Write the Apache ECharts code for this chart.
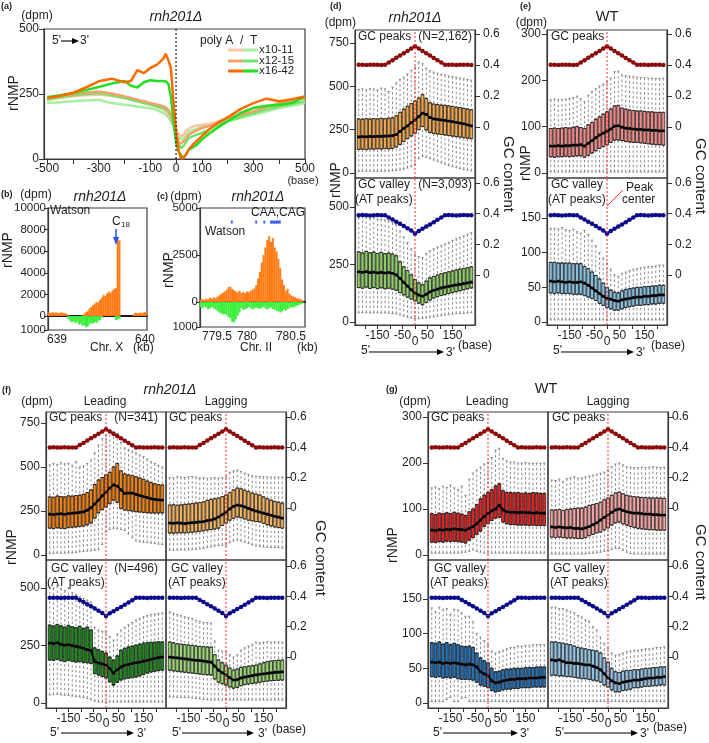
<!DOCTYPE html>
<html><head><meta charset="utf-8">
<script src="https://cdn.jsdelivr.net/npm/echarts@6/dist/echarts.min.js"></script>
<style>html,body{margin:0;padding:0;background:#fff}#c{width:709px;height:743px}</style>
</head><body><div id="c"></div>
<script>
// ---------------- DATA ----------------
// (a) rNMP around poly A/T tracts
const aPos = [-500,-450,-400,-350,-300,-250,-200,-175,-150,-125,-100,-75,-50,-40,-30,-20,-10,0,10,20,30,40,50,75,100,125,150,200,250,300,350,400,450,500];
const aOrange10 = [228,235,241,245,248,242,235,230,224,216,209,200,190,182,172,155,135,113,95,87,95,110,119,128,132,135,140,158,168,177,190,203,212,222];
const aGreen10  = [215,218,222,225,228,215,209,206,202,198,196,188,177,170,160,145,128,113,85,74,80,95,106,115,126,132,136,145,158,170,183,196,205,215];
const aOrange12 = [235,243,250,255,260,252,241,235,228,222,215,210,203,198,190,170,140,100,62,60,68,80,94,108,119,126,132,158,170,183,200,215,225,235];
const aGreen12  = [228,238,245,250,254,245,235,228,222,215,209,203,196,190,182,164,130,87,55,42,50,68,81,92,100,112,126,145,162,177,190,203,212,222];
const aOrange16 = [235,242,254,275,299,309,295,300,342,330,350,362,385,405,380,350,220,110,30,2,4,20,38,65,88,110,132,160,192,215,232,222,230,240];
const aGreen16  = [238,245,254,265,277,290,300,282,275,295,303,300,300,298,290,240,150,62,30,12,8,20,36,50,75,95,113,145,177,196,205,209,215,241];
const aLegend = ['x10-11','x12-15','x16-42'];
const aCenterLine = [[0, 0], [0, 500]];

// (b) Chr. X locus (kb)
const bPos = [638.91,638.93,638.95,638.97,638.99,639.01,639.03,639.05,639.07,639.09,639.11,639.13,639.15,639.17,639.19,639.21,639.23,639.25,639.27,639.29,639.31,639.33,639.35,639.37,639.39,639.41,639.43,639.45,639.47,639.49,639.51,639.53,639.55,639.57,639.59,639.61,639.63,639.65,639.67,639.69,639.71,639.73,639.75,639.77,639.79,639.81,639.83,639.85,639.87,639.89,639.91,639.93,639.95,639.97,639.99,640.01];
const bWatson = [320,280,350,300,330,260,300,340,280,250,200,60,0,0,0,0,0,0,20,60,200,350,450,700,850,1000,1150,1300,1250,1500,1700,1950,1850,2100,2250,2150,2350,2500,2600,7100,7000,0,0,0,0,0,0,0,150,300,280,250,320,260,350,380];
const bCrick = [0,0,0,0,0,0,0,0,0,0,0,-200,-350,-450,-380,-500,-420,-600,-550,-700,-650,-800,-750,-600,-500,-550,-450,-500,-350,-300,-100,0,0,0,0,0,0,0,-300,-250,-200,0,0,0,0,0,0,0,0,0,0,0,0,0,0,0];

// (c) Chr. II locus (kb)
const cPos = [779.28,779.305,779.33,779.355,779.38,779.405,779.43,779.455,779.48,779.505,779.53,779.555,779.58,779.605,779.63,779.655,779.68,779.705,779.73,779.755,779.78,779.805,779.83,779.855,779.88,779.905,779.93,779.955,779.98,780.005,780.03,780.055,780.08,780.105,780.13,780.155,780.18,780.205,780.23,780.255,780.28,780.305,780.33,780.355,780.38,780.405,780.43,780.455,780.48,780.505,780.53,780.555,780.58,780.605,780.63,780.655];
const cWatson = [120,150,100,180,150,220,180,250,200,280,350,420,500,560,650,780,820,700,620,560,520,600,480,530,470,560,520,600,650,720,900,1250,1600,2100,2500,2900,3300,3500,3200,3400,2900,2700,2300,1800,1200,900,600,700,450,350,300,250,200,180,150,100];
const cCrick = [-200,-250,-180,-220,-300,-250,-200,-260,-300,-350,-420,-450,-500,-480,-520,-600,-650,-780,-820,-700,-550,-420,-250,-320,-280,-250,-200,-240,-300,-260,-220,-250,-280,-230,-200,-260,-300,-250,-220,-280,-300,-350,-380,-420,-380,-300,-350,-280,-250,-200,-230,-180,-150,-120,-100,-60];
const cMotifX = [779.7,780.03,780.14,780.23,780.25,780.27,780.29,780.31,780.33,780.35];
const cMotifY = [4250,4250,4250,4250,4250,4250,4250,4250,4250,4250];

// (d)-(g) box plots around GC peaks / valleys (base)
const boxPos = [-225,-210,-195,-180,-165,-150,-135,-120,-105,-90,-75,-60,-45,-30,-15,0,15,30,45,60,75,90,105,120,135,150,165,180,195,210,225];
const gcPeak   = [0.40,0.401,0.399,0.40,0.401,0.40,0.399,0.40,0.416,0.43,0.446,0.46,0.475,0.49,0.505,0.52,0.505,0.49,0.475,0.46,0.445,0.43,0.415,0.40,0.401,0.40,0.399,0.40,0.401,0.40,0.399];
const gcValley = [0.39,0.391,0.39,0.389,0.39,0.391,0.39,0.39,0.376,0.362,0.348,0.335,0.32,0.305,0.29,0.27,0.288,0.302,0.316,0.33,0.345,0.36,0.375,0.39,0.391,0.39,0.389,0.39,0.391,0.39,0.39];
const peakCenter = 0;

const dUMed = [208,210,209,211,210,212,211,213,214,215,222,240,258,272,290,305,325,345,338,320,312,309,306,303,300,296,292,288,284,278,272];
const dUQ3  = [312,310,313,311,314,312,315,313,316,318,330,350,368,385,400,415,432,452,430,405,398,395,392,390,387,384,380,377,373,369,365];
const dUQ1  = [136,138,135,139,137,140,138,141,139,142,150,165,182,198,214,230,250,268,248,234,228,225,222,219,216,213,210,207,204,201,198];
const dUHi  = [482,486,480,488,484,478,490,485,470,495,520,540,552,572,592,612,640,630,605,590,582,576,570,566,560,556,552,548,544,540,536];
const dULo  = [10,10,10,10,10,10,10,10,10,12,14,18,22,28,36,48,82,96,90,82,74,66,58,50,43,36,30,25,20,16,12];

const dLMed = [218,216,219,215,217,214,216,213,215,212,205,190,172,156,140,127,117,112,121,131,138,143,148,152,155,158,161,164,167,170,173];
const dLQ3  = [305,300,307,301,304,298,303,297,300,295,288,262,240,224,205,185,170,162,178,192,198,204,210,214,218,222,226,230,233,236,240];
const dLQ1  = [150,147,152,146,150,145,149,144,147,143,138,128,118,108,100,92,82,75,85,96,104,110,115,119,124,128,132,136,140,144,148];
const dLHi  = [455,462,458,450,456,448,446,444,440,432,424,396,370,345,318,295,285,280,298,310,318,326,333,340,347,355,362,368,375,381,388];
const dLLo  = [40,41,40,39,40,40,39,40,38,37,35,30,25,20,17,15,14,15,17,20,22,25,28,30,32,34,36,37,38,39,40];

const eUMed = [58,58,59,58,59,59,60,60,61,58,64,70,76,82,86,90,95,101,102,99,97,96,95,94,94,93,93,92,92,91,91];
const eUQ3  = [96,97,96,97,98,97,99,100,98,96,104,109,116,121,127,132,138,145,146,140,138,136,135,134,134,133,132,132,131,131,131];
const eUQ1  = [35,34,35,35,36,35,36,37,37,34,38,43,48,53,57,61,66,71,71,70,68,67,66,66,65,64,63,62,61,61,60];
const eUHi  = [158,160,158,159,160,161,163,166,160,154,168,176,182,188,192,197,205,219,220,212,210,209,208,207,206,206,205,205,204,204,205];
const eULo  = [2,2,2,2,2,2,2,2,2,2,2,2,2,2,2,2,2,2,2,2,2,2,2,2,2,2,2,2,2,2,2];

const eLMed = [59,58,59,58,57,58,57,57,58,56,53,49,45,41,37,34,33,31,30,32,33,34,35,36,36,37,37,38,38,39,39];
const eLQ3  = [86,86,85,85,85,85,84,84,84,80,77,72,67,62,56,50,46,43,42,45,47,48,49,50,50,51,51,52,52,53,53];
const eLQ1  = [42,41,42,41,41,41,40,40,40,38,36,34,31,27,24,21,19,17,17,19,21,22,23,24,24,25,25,26,26,27,27];
const eLHi  = [135,135,134,136,133,132,134,130,128,132,126,118,110,100,92,85,76,68,66,70,72,74,76,77,78,79,80,80,81,82,82];
const eLLo  = [3,3,3,3,3,3,3,3,3,3,3,3,3,3,3,3,3,3,3,3,3,3,3,3,3,3,3,3,3,3,3];

const fULMed = [232,230,233,235,231,236,238,240,242,245,255,268,290,312,336,358,380,398,392,370,350,352,352,345,338,332,326,320,316,313,312];
const fULQ3  = [330,328,335,332,330,336,334,338,340,345,355,370,400,426,440,455,470,500,520,478,460,455,452,445,438,430,420,412,405,400,398];
const fULQ1  = [153,150,155,152,150,156,158,160,162,165,172,182,210,240,258,273,292,312,300,265,256,252,250,246,244,242,240,239,239,239,239];
const fULHi  = [512,520,515,525,518,522,510,530,500,505,520,540,580,625,660,682,710,700,690,640,608,600,590,580,568,560,545,530,520,510,500];
const fULLo  = [10,10,12,10,11,13,12,15,18,20,22,24,26,30,60,130,145,152,150,145,140,120,100,80,75,72,70,68,65,62,60];

const fURMed = [182,180,183,181,179,182,184,186,188,190,195,199,205,216,230,244,262,276,284,280,273,265,257,250,244,238,232,226,220,215,210];
const fURQ3  = [284,286,283,285,288,290,292,295,298,302,310,316,320,324,332,341,355,370,381,376,368,360,352,346,341,330,320,312,305,300,295];
const fURQ1  = [125,124,126,127,126,128,130,132,135,138,142,145,148,153,168,182,198,208,216,212,205,198,194,190,188,180,172,166,160,156,153];
const fURHi  = [440,438,445,442,440,444,446,443,438,440,436,438,440,437,440,445,470,478,483,475,465,458,450,448,446,445,444,443,443,443,443];
const fURLo  = [28,27,28,29,28,30,31,32,35,38,42,46,50,54,56,57,70,80,85,80,72,65,58,52,48,46,44,43,42,41,40];

const fLLMed = [261,258,262,255,252,254,250,246,243,238,232,228,180,174,170,165,150,130,145,157,165,168,172,175,178,182,186,190,194,197,200];
const fLLQ3  = [339,335,342,336,330,338,332,328,334,325,330,318,240,232,225,217,200,187,205,230,238,244,248,252,256,260,262,264,265,266,266];
const fLLQ1  = [187,185,190,184,180,186,182,178,180,176,175,172,128,122,115,109,92,78,90,100,105,108,110,113,118,124,130,135,138,141,143];
const fLLHi  = [505,500,510,498,490,502,480,470,462,455,448,440,330,317,312,309,290,274,300,317,330,340,350,361,368,375,380,384,387,390,392];
const fLLLo  = [35,36,38,35,34,33,30,28,26,24,20,15,8,5,4,4,4,4,4,4,4,4,4,4,4,4,4,4,4,4,4];

const fLRMed = [200,198,196,194,192,190,188,186,185,182,180,178,160,143,132,122,110,100,102,109,113,116,119,122,125,127,129,131,133,134,135];
const fLRQ3  = [265,262,258,256,254,252,250,248,246,245,244,243,210,187,175,165,152,143,148,155,158,160,162,165,170,175,180,183,185,186,187];
const fLRQ1  = [143,140,138,136,134,132,130,128,126,124,123,122,105,91,84,78,70,65,68,75,80,83,85,87,90,93,95,97,98,99,100];
const fLRHi  = [396,390,385,380,375,372,368,360,355,350,350,348,270,230,226,222,210,200,210,230,240,248,255,265,262,265,268,265,266,265,265];
const fLRLo  = [26,26,25,24,24,23,22,20,18,15,14,13,13,13,13,13,13,13,13,13,13,13,13,13,13,13,13,13,13,13,13];

const gULMed = [54,53,55,54,56,55,57,56,55,54,58,62,68,76,84,90,96,100,108,98,94,93,93,92,93,92,92,91,92,91,91];
const gULQ3  = [90,88,91,90,92,90,93,91,89,86,94,100,110,122,130,136,142,150,155,140,136,136,135,136,134,135,134,136,135,134,134];
const gULQ1  = [28,27,29,28,30,29,30,29,28,26,32,38,45,52,62,68,75,80,82,72,68,66,66,65,65,65,64,65,64,64,64];
const gULHi  = [146,148,145,150,147,152,146,142,150,130,165,178,185,191,198,202,212,228,232,210,205,202,202,200,200,201,200,199,200,199,200];
const gULLo  = [4,4,4,4,4,4,4,4,5,6,8,11,8,6,4,4,4,4,4,4,4,4,4,4,4,4,4,4,4,4,4];

const gURMed = [61,60,61,60,59,60,58,58,57,59,62,66,70,76,82,87,93,98,100,97,94,92,91,91,90,89,89,88,88,87,87];
const gURQ3  = [98,98,99,97,99,100,101,102,102,104,108,110,112,115,120,124,130,135,137,133,130,128,127,126,125,125,124,124,124,124,123];
const gURQ1  = [39,38,39,38,37,37,37,36,36,38,42,45,48,50,55,59,65,70,72,68,65,62,60,58,57,56,55,55,54,54,54];
const gURHi  = [163,162,165,160,166,168,170,167,168,170,172,174,176,178,180,185,192,198,200,196,192,191,190,190,191,190,191,192,191,190,191];
const gURLo  = [2,2,2,2,2,2,2,2,2,2,3,4,5,6,8,10,12,15,14,10,6,3,2,2,2,2,2,2,2,2,2];

const gLLMed = [59,58,59,57,58,57,58,57,56,55,56,55,52,45,42,40,32,29,30,32,33,34,34,35,35,35,36,36,36,37,37];
const gLLQ3  = [87,86,88,85,87,84,86,84,82,81,82,80,72,65,61,58,50,45,46,48,49,49,50,50,50,51,51,51,52,52,52];
const gLLQ1  = [38,37,38,36,37,36,37,35,34,34,34,33,30,26,24,22,18,16,17,19,20,20,21,21,22,22,22,23,23,23,23];
const gLLHi  = [137,132,138,135,136,128,135,134,130,125,125,117,100,95,90,84,75,72,74,76,78,80,80,82,82,83,83,84,84,84,84];
const gLLLo  = [2,2,2,2,5,8,2,2,7,8,2,2,2,2,2,2,2,2,2,2,2,2,2,2,2,2,2,2,2,2,2];

const gLRMed = [62,61,62,60,58,58,57,57,56,55,55,53,51,48,42,36,32,29,28,30,31,32,33,33,34,35,36,36,37,37,38];
const gLRQ3  = [88,88,87,86,85,84,82,80,79,78,77,76,75,72,65,59,50,45,44,46,47,47,48,48,49,50,50,51,51,52,52];
const gLRQ1  = [40,40,39,39,38,38,37,36,35,35,34,33,32,30,26,23,19,16,16,18,19,20,22,22,23,24,24,25,25,26,26];
const gLRHi  = [138,138,136,136,134,132,130,126,124,120,118,110,105,95,86,79,72,69,70,72,74,75,76,76,77,78,78,79,80,80,81];
const gLRLo  = [2,2,2,2,2,2,2,2,2,2,2,2,2,2,2,2,2,2,2,2,2,2,2,2,2,2,2,2,2,2,2];

// ---------------- BUILD ----------------
const FONT = '"Liberation Sans", Arial, Helvetica, sans-serif';
const TXT = '#1e1e1e';
const grids = [], xAxis = [], yAxis = [], series = [];

function grid(l, t, w, h) {
  grids.push({left: l, top: t, width: w, height: h, show: true, borderColor: '#3c3c3c', borderWidth: 1.2,
    backgroundColor: 'rgba(0,0,0,0)', containLabel: false, outerBoundsMode: 'none'});
  return grids.length - 1;
}
function vAxis(gi, min, max, extra) {
  return Object.assign({type: 'value', gridIndex: gi, min: min, max: max,
    axisLine: {show: false, onZero: false}, axisTick: {show: false}, axisLabel: {show: false}, splitLine: {show: false}}, extra || {});
}
function ticks(tv, lv, fmt, o) {
  o = o || {};
  return {
    axisLine: {show: true, onZero: false, lineStyle: {color: '#3c3c3c', width: 1.2}},
    axisTick: {show: true, customValues: tv, length: o.len || 5, lineStyle: {color: '#333', width: 1}},
    axisLabel: {show: true, customValues: lv, formatter: fmt, fontSize: o.size || 12, color: TXT, fontFamily: FONT,
      margin: o.margin == null ? 6 : o.margin, rich: o.rich}
  };
}
const addX = c => xAxis.push(c) - 1;
const addY = c => yAxis.push(c) - 1;

// ---- (a)
const ga = grid(44, 29, 261, 130);
const xa = addX(vAxis(ga, -512, 500, ticks([-500,-400,-300,-200,-100,0,100,200,300,400,500], [-500,-300,-100,0,100,300,500], v => String(v), {margin: 4})));
const ya = addY(vAxis(ga, 0, 500, ticks([0,250,500], [0,250,500], v => String(v), {margin: 5})));
const aCols = [['#f9c7a6', '#a7eea0'], ['#f5a16c', '#6fe46b'], ['#ff6b00', '#1fdf1f']];
const aSets = [[aOrange10, aGreen10], [aOrange12, aGreen12], [aOrange16, aGreen16]];
aSets.forEach((pair, k) => {
  [1, 0].forEach(j => {
    series.push({type: 'line', xAxisIndex: xa, yAxisIndex: ya, silent: true, symbol: 'none', z: 2 + k,
      data: aPos.map((x, i) => [x, pair[j][i]]), lineStyle: {color: aCols[k][j], width: 2.5}});
  });
});
series.push({type: 'line', xAxisIndex: xa, yAxisIndex: ya, silent: true, symbol: 'none', z: 8, data: aCenterLine,
  lineStyle: {color: '#333', type: [2, 2], width: 1.3}});

// ---- (b)
const ORANGE = '#ff7b16', GREEN = '#3def3d';
const gb1 = grid(48, 208, 99, 108), gb2 = grid(48, 316, 99, 14);
const xb1 = addX(vAxis(gb1, 638.898, 640.023, {axisLine: {show: true, onZero: false, lineStyle: {color: '#000', width: 1.6}}}));
const yb1 = addY(vAxis(gb1, 0, 10000, ticks([0,2000,4000,6000,8000,10000], [0,2000,4000,6000,8000,10000], v => String(v), {size: 11.5, len: 4, margin: 2})));
const xb2 = addX(vAxis(gb2, 638.898, 640.023, {axisLabel: {show: true, customValues: [639, 640], fontSize: 12, color: TXT, margin: 4}}));
const yb2 = addY(vAxis(gb2, -1000, 0, ticks([-1000], [-1000], v => String(Math.abs(v)), {size: 11.5, len: 4, margin: 2})));
series.push({type: 'bar', xAxisIndex: xb1, yAxisIndex: yb1, silent: true, barWidth: 2, data: bPos.map((x, i) => [x, bWatson[i]]), itemStyle: {color: ORANGE}});
series.push({type: 'bar', xAxisIndex: xb2, yAxisIndex: yb2, silent: true, barWidth: 2, data: bPos.map((x, i) => [x, bCrick[i]]), itemStyle: {color: GREEN}});

// ---- (c)
const gc1 = grid(200, 208, 105, 94), gc2 = grid(200, 302, 105, 25);
const xc1 = addX(vAxis(gc1, 779.27, 780.69, {axisLine: {show: true, onZero: false, lineStyle: {color: '#000', width: 1.6}}}));
const yc1 = addY(vAxis(gc1, 0, 5000, ticks([0,2500,5000], [0,2500,5000], v => String(v), {size: 11.5, len: 4, margin: 2})));
const xc2 = addX(vAxis(gc2, 779.27, 780.69, {axisLabel: {show: true, customValues: [779.5, 780, 780.5], fontSize: 12, color: TXT, margin: 4,
  formatter: v => v === 780 ? '{s|780}' : String(v), rich: {s: {fontSize: 12, color: TXT, padding: [0, 14, 0, 0]}}}}));
const yc2 = addY(vAxis(gc2, -1000, 0, ticks([-1000], [-1000], v => String(Math.abs(v)), {size: 11.5, len: 4, margin: 2})));
series.push({type: 'bar', xAxisIndex: xc1, yAxisIndex: yc1, silent: true, barWidth: 2, data: cPos.map((x, i) => [x, cWatson[i]]), itemStyle: {color: ORANGE}});
series.push({type: 'bar', xAxisIndex: xc2, yAxisIndex: yc2, silent: true, barWidth: 2, data: cPos.map((x, i) => [x, cCrick[i]]), itemStyle: {color: GREEN}});
series.push({type: 'scatter', xAxisIndex: xc1, yAxisIndex: yc1, silent: true, symbol: 'rect', symbolSize: [2, 3],
  data: cMotifX.map((x, i) => [x, cMotifY[i]]), itemStyle: {color: '#2244ee'}});

// ---- box panels
const xTickV = [-200,-150,-100,-50,0,50,100,150,200];
const xLabV = [-150,-50,0,50,150];
function boxPanel(o) {
  const g = grid(o.l, o.t, 120, o.h);
  const xm = addX(vAxis(g, -240, 240, o.showX ? ticks(xTickV, xLabV, v => v === 0 ? '{z|0}' : String(v),
    {len: 4, margin: 5, rich: {z: {fontSize: 12, color: TXT, padding: [o.zpad || 6, 0, 0, 0]}}}) : {}));
  const xw = addX(vAxis(g, -240, 240));
  const yl = addY(vAxis(g, o.lmin, o.lmax, Object.assign({position: 'left'}, o.lticks ? ticks(o.lticks, o.lticks, v => String(v), {margin: 6}) : {})));
  const yr = addY(vAxis(g, o.rmin, o.rmax, Object.assign({position: 'right'}, o.showR ? ticks([0, 0.2, 0.4, 0.6], [0, 0.2, 0.4, 0.6], v => v === 0 ? '0' : v.toFixed(1), {margin: o.rmargin || 4}) : {})));
  const d = o.d;
  series.push({type: 'boxplot', xAxisIndex: xw, yAxisIndex: yl, silent: true, z: 2, boxWidth: [2.2, 2.2],
    data: boxPos.map((p, i) => [p, d.lo[i], d.q1[i], d.med[i], d.q3[i], d.hi[i]]),
    itemStyle: {color: 'rgba(0,0,0,0)', borderColor: '#707070', borderWidth: 0.8, borderType: [2.5, 2.3]}});
  series.push({type: 'boxplot', xAxisIndex: xm, yAxisIndex: yl, silent: true, z: 3, boxWidth: [3, 3],
    data: boxPos.map((p, i) => [p, d.q1[i], d.q1[i], d.med[i], d.q3[i], d.q3[i]]),
    itemStyle: {color: o.color, borderColor: '#1a1a1a', borderWidth: 0.7}});
  // peak-center guide
  series.push({type: 'line', xAxisIndex: xm, yAxisIndex: yl, silent: true, z: 5, symbol: 'none',
    data: [[peakCenter, o.lmin], [peakCenter, o.lmax]], lineStyle: {color: '#ff2a2a', type: [2, 2], width: 1}});
  series.push({type: 'line', xAxisIndex: xm, yAxisIndex: yl, silent: true, z: 4, symbol: 'circle', symbolSize: 3.2, showSymbol: true,
    data: boxPos.map((p, i) => [p, d.med[i]]), lineStyle: {color: '#000', width: 1.8}, itemStyle: {color: '#000'}});
  series.push({type: 'line', xAxisIndex: xm, yAxisIndex: yr, silent: true, z: 4, symbol: 'circle', symbolSize: 4.5, showSymbol: true,
    data: boxPos.map((p, i) => [p, o.gc[i]]), lineStyle: {color: o.gcColor, width: 2}, itemStyle: {color: o.gcColor}});
}
const RED = '#8c0b0b', BLUE = '#0b0b8c';
const D = (med, q1, q3, lo, hi) => ({med, q1, q3, lo, hi});

// (d)
boxPanel({l: 355, t: 30, h: 148, lmin: -29, lmax: 825, lticks: [0, 250, 500, 750], rmin: -0.33, rmax: 0.625, showR: true, rmargin: 8,
  d: D(dUMed, dUQ1, dUQ3, dULo, dUHi), color: '#f0a64e', gc: gcPeak, gcColor: RED});
boxPanel({l: 355, t: 178, h: 147, lmin: -13, lmax: 626, lticks: [0, 250, 500], rmin: -0.326, rmax: 0.633, showR: true, rmargin: 8, showX: true,
  d: D(dLMed, dLQ1, dLQ3, dLLo, dLHi), color: '#90cc68', gc: gcValley, gcColor: BLUE});
// (e)
boxPanel({l: 547, t: 30, h: 148, lmin: -11, lmax: 309, lticks: [0, 100, 200, 300], rmin: -0.33, rmax: 0.625, showR: true, rmargin: 8,
  d: D(eUMed, eUQ1, eUQ3, eULo, eUHi), color: '#ee8a88', gc: gcPeak, gcColor: RED});
boxPanel({l: 547, t: 178, h: 147, lmin: -4.3, lmax: 207.5, lticks: [0, 50, 100, 150], rmin: -0.326, rmax: 0.633, showR: true, rmargin: 8, showX: true,
  d: D(eLMed, eLQ1, eLQ3, eLLo, eLHi), color: '#88c0de', gc: gcValley, gcColor: BLUE});
// (f)
boxPanel({l: 46, t: 412, h: 148, lmin: -28, lmax: 812, lticks: [0, 250, 500, 750], rmin: -0.343, rmax: 0.634,
  d: D(fULMed, fULQ1, fULQ3, fULLo, fULHi), color: '#f08214', gc: gcPeak, gcColor: RED});
boxPanel({l: 166, t: 412, h: 148, lmin: -28, lmax: 812, rmin: -0.343, rmax: 0.634, showR: true,
  d: D(fURMed, fURQ1, fURQ3, fURLo, fURHi), color: '#f2b25e', gc: gcPeak, gcColor: RED});
boxPanel({l: 46, t: 560, h: 148, lmin: -21.7, lmax: 622, lticks: [0, 250, 500], rmin: -0.337, rmax: 0.64, showX: true, zpad: 5,
  d: D(fLLMed, fLLQ1, fLLQ3, fLLLo, fLLHi), color: '#208a20', gc: gcValley, gcColor: BLUE});
boxPanel({l: 166, t: 560, h: 148, lmin: -21.7, lmax: 622, rmin: -0.337, rmax: 0.64, showR: true, showX: true, zpad: 5,
  d: D(fLRMed, fLRQ1, fLRQ3, fLRLo, fLRHi), color: '#9ad476', gc: gcValley, gcColor: BLUE});
// (g)
boxPanel({l: 428, t: 412, h: 148, lmin: -10.9, lmax: 311, lticks: [0, 100, 200, 300], rmin: -0.343, rmax: 0.634,
  d: D(gULMed, gULQ1, gULQ3, gULLo, gULHi), color: '#e02424', gc: gcPeak, gcColor: RED});
boxPanel({l: 548, t: 412, h: 148, lmin: -10.9, lmax: 311, rmin: -0.343, rmax: 0.634, showR: true,
  d: D(gURMed, gURQ1, gURQ3, gURLo, gURHi), color: '#f2a4a2', gc: gcPeak, gcColor: RED});
boxPanel({l: 428, t: 560, h: 148, lmin: -7.2, lmax: 206, lticks: [0, 50, 100, 150], rmin: -0.337, rmax: 0.64, showX: true, zpad: 5,
  d: D(gLLMed, gLLQ1, gLLQ3, gLLLo, gLLHi), color: '#2472b5', gc: gcValley, gcColor: BLUE});
boxPanel({l: 548, t: 560, h: 148, lmin: -7.2, lmax: 206, rmin: -0.337, rmax: 0.64, showR: true, showX: true, zpad: 5,
  d: D(gLRMed, gLRQ1, gLRQ3, gLRLo, gLRHi), color: '#94c4e4', gc: gcValley, gcColor: BLUE});

// ---------------- TEXT / DECORATION ----------------
function txt(x, y, s, o) {
  o = o || {};
  return {type: 'text', x: x, y: y, rotation: o.rot || 0, silent: true, z: 100,
    style: {text: s, fill: o.fill || TXT, fontSize: o.size || 12, fontFamily: FONT,
      fontStyle: o.italic ? 'italic' : 'normal', fontWeight: o.bold ? 'bold' : 'normal',
      align: o.align || 'left', verticalAlign: 'middle'}};
}
function ln(x1, y1, x2, y2, c, w) {
  return {type: 'line', silent: true, z: 100, shape: {x1, y1, x2, y2}, style: {stroke: c || '#000', lineWidth: w || 1}};
}
function arrowH(x1, x2, y) {
  return [ln(x1, y, x2 - 5, y, '#000', 1.1),
    {type: 'polygon', silent: true, z: 100, shape: {points: [[x2, y], [x2 - 7, y - 3], [x2 - 7, y + 3]]}, style: {fill: '#000'}}];
}
const G = [];
const P = (...a) => G.push(...a);
// panel letters
P(txt(1, 7, '(a)', {bold: true, size: 9}), txt(1, 195, '(b)', {bold: true, size: 9}), txt(157, 197, '(c)', {bold: true, size: 9}),
  txt(330, 7, '(d)', {bold: true, size: 9}), txt(520, 7, '(e)', {bold: true, size: 9}), txt(2, 391, '(f)', {bold: true, size: 9}),
  txt(386, 390, '(g)', {bold: true, size: 9}));
// titles
P(txt(176, 17, 'rnh201Δ', {italic: true, size: 14, align: 'center'}), txt(100, 197, 'rnh201Δ', {italic: true, size: 14, align: 'center'}),
  txt(258, 197, 'rnh201Δ', {italic: true, size: 14, align: 'center'}), txt(415, 18, 'rnh201Δ', {italic: true, size: 14, align: 'center'}),
  txt(607, 17, 'WT', {size: 14.5, align: 'center'}), txt(170, 390, 'rnh201Δ', {italic: true, size: 14, align: 'center'}),
  txt(546, 389, 'WT', {size: 14.5, align: 'center'}));
// (dpm)
P(txt(37, 16, '(dpm)', {align: 'center'}), txt(36, 195, '(dpm)', {align: 'center'}), txt(186, 197, '(dpm)', {align: 'center'}),
  txt(356, 23, '(dpm)', {align: 'right'}), txt(547, 23, '(dpm)', {align: 'right'}), txt(37, 402, '(dpm)', {align: 'center'}),
  txt(415, 402, '(dpm)', {align: 'center'}));
// rNMP / GC content
[[14, 93], [8, 250], [169, 270], [336, 180], [526, 163], [12, 547], [393, 545]].forEach(p => P(txt(p[0], p[1], 'rNMP', {size: 14, rot: Math.PI / 2, align: 'center'})));
[[508, 174], [700, 176], [320, 558], [700, 562]].forEach(p => P(txt(p[0], p[1], 'GC content', {size: 15, rot: -Math.PI / 2, align: 'center'})));
// (a) extras
P(txt(52, 41, "5'"), ...arrowH(61, 79, 41), txt(80, 41, "3'"), txt(303, 181, '(base)', {align: 'center', size: 11}),
  txt(200, 41, 'poly A  /  T'));
[50, 61, 71].forEach((y, k) => P(ln(228, y, 243, y, aCols[k][0], 3), ln(243, y, 258, y, aCols[k][1], 3), txt(259, y, aLegend[k], {size: 11.5})));
// (b) extras
P(txt(50, 211, 'Watson'), txt(112, 222, 'C'), txt(121, 225, '18', {size: 8}), ln(116, 229, 116, 238, '#2255ee', 1.5),
  {type: 'polygon', silent: true, z: 100, shape: {points: [[116, 245], [113, 237], [119, 237]]}, style: {fill: '#2255ee'}},
  txt(90, 348, 'Chr. X'), txt(133, 348, '(kb)'));
// (c) extras
P(txt(205, 232, 'Watson'), txt(251, 213, 'CAA,CAG'), txt(240, 348, 'Chr. II'), txt(297, 348, '(kb)'));
// (d) extras
P(txt(358, 37, 'GC peaks'), txt(472, 37, '(N=2,162)', {align: 'right'}), txt(358, 185, 'GC valley'), txt(472, 185, '(N=3,093)', {align: 'right'}),
  txt(355, 200, '(AT peaks)'), txt(361, 351, "5'"), ...arrowH(369, 444, 352), txt(446, 353, "3'"), txt(458, 346, '(base)'));
// (e) extras
P(txt(551, 37, 'GC peaks'), txt(551, 185, 'GC valley'), txt(548, 200, '(AT peaks)'), txt(626, 188, 'Peak'), txt(622, 200, 'center'),
  ln(607, 206, 623, 190, '#ff3030', 1), txt(553, 351, "5'"), ...arrowH(561, 634, 352), txt(636, 353, "3'"), txt(651, 346, '(base)'));
// (f) extras
P(txt(105, 402, 'Leading', {align: 'center'}), txt(226, 402, 'Lagging', {align: 'center'}),
  txt(49, 418, 'GC peaks'), txt(158, 418, '(N=341)', {align: 'right'}), txt(169, 418, 'GC peaks'),
  txt(51, 569, 'GC valley'), txt(158, 569, '(N=496)', {align: 'right'}), txt(47, 583, '(AT peaks)'),
  txt(171, 569, 'GC valley'), txt(168, 583, '(AT peaks)'),
  txt(50, 733, "5'"), ...arrowH(61, 134, 733), txt(137, 734, "3'"),
  txt(172, 733, "5'"), ...arrowH(182, 254, 733), txt(258, 734, "3'"), txt(272, 730, '(base)'));
// (g) extras
P(txt(487, 402, 'Leading', {align: 'center'}), txt(608, 402, 'Lagging', {align: 'center'}),
  txt(431, 418, 'GC peaks'), txt(552, 418, 'GC peaks'),
  txt(434, 569, 'GC valley'), txt(430, 583, '(AT peaks)'), txt(553, 569, 'GC valley'), txt(550, 583, '(AT peaks)'),
  txt(433, 733, "5'"), ...arrowH(443, 518, 733), txt(520, 734, "3'"),
  txt(555, 733, "5'"), ...arrowH(564, 638, 733), txt(640, 734, "3'"), txt(653, 728, '(base)'));

const chart = echarts.init(document.getElementById('c'), null, {renderer: 'canvas'});
chart.setOption({animation: false, backgroundColor: '#fff', textStyle: {fontFamily: FONT},
  tooltip: {show: false}, grid: grids, xAxis: xAxis, yAxis: yAxis, series: series, graphic: G});
</script></body></html>
